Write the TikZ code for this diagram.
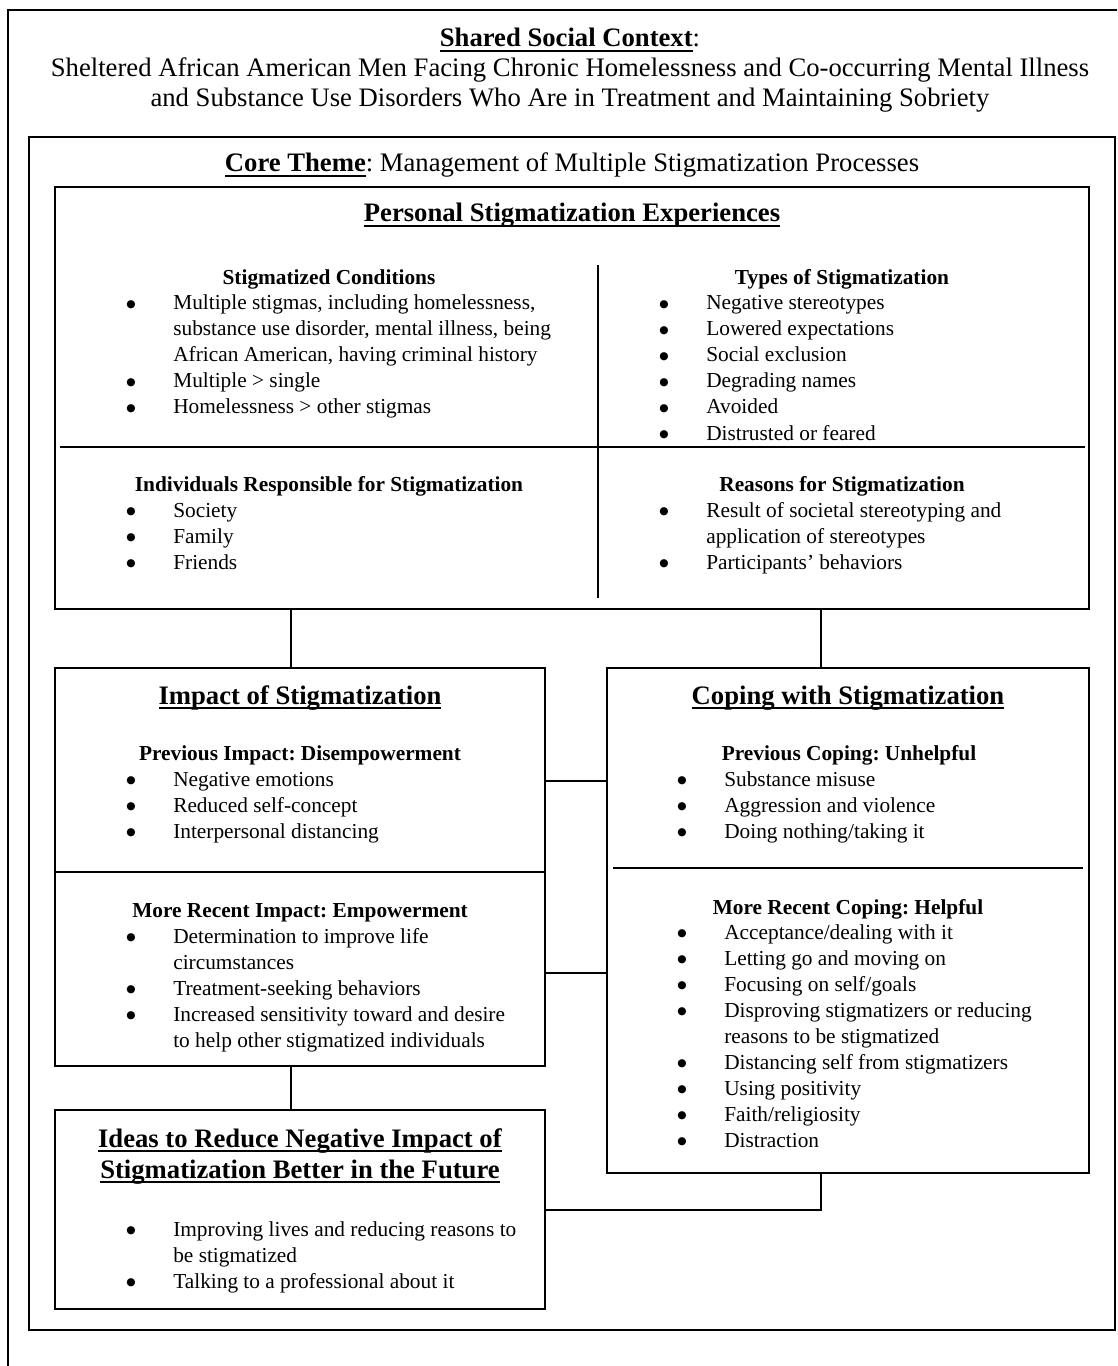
\documentclass[tikz,border=0pt]{standalone}
\usepackage{fontspec}
\setmainfont{Liberation Serif}
\newfontfamily\dotfont{DejaVu Sans}
\usepackage{tikz}
\usetikzlibrary{fit}
\frenchspacing

\newcommand{\undl}[1]{\leavevmode\setbox0=\hbox{#1}\rlap{\rule[-2.9pt]{\wd0}{1pt}}\box0}
\newcommand{\bul}{\raisebox{1.5pt}{\dotfont\fontsize{6}{6}\selectfont ●}}
\newcommand{\bullets}[1]{\begin{tabular}[t]{@{}p{26.4pt}@{}l@{}}#1\end{tabular}}

\begin{document}
\begin{tikzpicture}[x=0.5625pt, y=-0.5625pt,
  panel/.style={draw, line width=1.1pt, inner sep=0pt},
  link/.style={line width=1.1pt},
  title/.style={inner sep=0pt, font=\fontsize{15}{17}\selectfont},
  body/.style={inner sep=0pt, font=\fontsize{12}{14.625}\selectfont}]
\useasboundingbox (0,0) rectangle (1117,1366);
\clip (0,0) rectangle (1117,1366);

\node[panel, fit={(8,10) (1140,1390)}] (outer) {};
\node[panel, fit={(29,137) (1115,1330)}] (core) {};
\node[panel, fit={(55,187) (1089,609)}] (personal) {};
\node[panel, fit={(55,668) (545,1066)}] (impact) {};
\node[panel, fit={(607,668) (1089,1173)}] (coping) {};
\node[panel, fit={(55,1110) (545,1309)}] (ideas) {};

% dividers inside the boxes
\draw[link] (598,265) -- (598,598);
\draw[link] (60,447) -- (1085,447);
\draw[link] (55,872) -- (545,872);
\draw[link] (613,868) -- (1083,868);

\coordinate (lx) at (291,0);
\coordinate (rx) at (821,0);
\coordinate (ya) at (0,781);
\coordinate (yb) at (0,973);
\coordinate (yc) at (0,1210);
\draw[link] (personal.south -| lx) -- (impact.north -| lx);
\draw[link] (personal.south -| rx) -- (coping.north -| rx);
\draw[link] (impact.east |- ya) -- (coping.west |- ya);
\draw[link] (impact.east |- yb) -- (coping.west |- yb);
\draw[link] (impact.south -| lx) -- (ideas.north -| lx);
\draw[link] (coping.south -| rx) |- (ideas.east |- yc);

\node[title, anchor=base] (sharedhead) at (570,47) {\undl{\textbf{Shared Social Context}}:};
\node[title, anchor=base] (sharedline1) at (570,77) {Sheltered African American Men Facing Chronic Homelessness and Co-occurring Mental Illness};
\node[title, anchor=base] (sharedline2) at (570,107) {and Substance Use Disorders Who Are in Treatment and Maintaining Sobriety};
\node[title, anchor=base] (corehead) at (572,172) {\undl{\textbf{Core Theme}}: Management of Multiple Stigmatization Processes};

% personal stigmatization experiences
\node[title, anchor=base] (personaltitle) at (572,222) {\undl{\textbf{Personal Stigmatization Experiences}}};
\node[body, anchor=base] (condhead) at (329,285) {\textbf{Stigmatized Conditions}};
\node[body, anchor=base west] (condlist) at (126,310) {\bullets{
  \bul & Multiple stigmas, including homelessness,\\
  & substance use disorder, mental illness, being\\
  & African American, having criminal history\\
  \bul & Multiple > single\\
  \bul & Homelessness > other stigmas}};
\node[body, anchor=base] (typehead) at (842,285) {\textbf{Types of Stigmatization}};
\node[body, anchor=base west] (typelist) at (659,310) {\bullets{
  \bul & Negative stereotypes\\
  \bul & Lowered expectations\\
  \bul & Social exclusion\\
  \bul & Degrading names\\
  \bul & Avoided\\
  \bul & Distrusted or feared}};
\node[body, anchor=base] (whohead) at (329,491) {\textbf{Individuals Responsible for Stigmatization}};
\node[body, anchor=base west] (wholist) at (126,517) {\bullets{
  \bul & Society\\
  \bul & Family\\
  \bul & Friends}};
\node[body, anchor=base] (whyhead) at (842,491) {\textbf{Reasons for Stigmatization}};
\node[body, anchor=base west] (whylist) at (659,517) {\bullets{
  \bul & Result of societal stereotyping and\\
  & application of stereotypes\\
  \bul & Participants’ behaviors}};

% impact
\node[title, anchor=base] (impacttitle) at (300,704) {\undl{\textbf{Impact of Stigmatization}}};
\node[body, anchor=base] (prevhead) at (300,760) {\textbf{Previous Impact: Disempowerment}};
\node[body, anchor=base west] (prevlist) at (126,786) {\bullets{
  \bul & Negative emotions\\
  \bul & Reduced self-concept\\
  \bul & Interpersonal distancing}};
\node[body, anchor=base] (recenthead) at (300,917) {\textbf{More Recent Impact: Empowerment}};
\node[body, anchor=base west] (recentlist) at (126,943) {\bullets{
  \bul & Determination to improve life\\
  & circumstances\\
  \bul & Treatment-seeking behaviors\\
  \bul & Increased sensitivity toward and desire\\
  & to help other stigmatized individuals}};

% coping
\node[title, anchor=base] (copingtitle) at (848,704) {\undl{\textbf{Coping with Stigmatization}}};
\node[body, anchor=base] (unhelphead) at (849,760) {\textbf{Previous Coping: Unhelpful}};
\node[body, anchor=base west] (unhelplist) at (677,786) {\bullets{
  \bul & Substance misuse\\
  \bul & Aggression and violence\\
  \bul & Doing nothing/taking it}};
\node[body, anchor=base] (helphead) at (848,914) {\textbf{More Recent Coping: Helpful}};
\node[body, anchor=base west] (helplist) at (677,939) {\bullets{
  \bul & Acceptance/dealing with it\\
  \bul & Letting go and moving on\\
  \bul & Focusing on self/goals\\
  \bul & Disproving stigmatizers or reducing\\
  & reasons to be stigmatized\\
  \bul & Distancing self from stigmatizers\\
  \bul & Using positivity\\
  \bul & Faith/religiosity\\
  \bul & Distraction}};

% ideas
\node[title, anchor=base] (ideastitle1) at (300,1147) {\undl{\textbf{Ideas to Reduce Negative Impact of}}};
\node[title, anchor=base] (ideastitle2) at (300,1178) {\undl{\textbf{Stigmatization Better in the Future}}};
\node[body, anchor=base west] (ideaslist) at (126,1236) {\bullets{
  \bul & Improving lives and reducing reasons to\\
  & be stigmatized\\
  \bul & Talking to a professional about it}};

\end{tikzpicture}
\end{document}
